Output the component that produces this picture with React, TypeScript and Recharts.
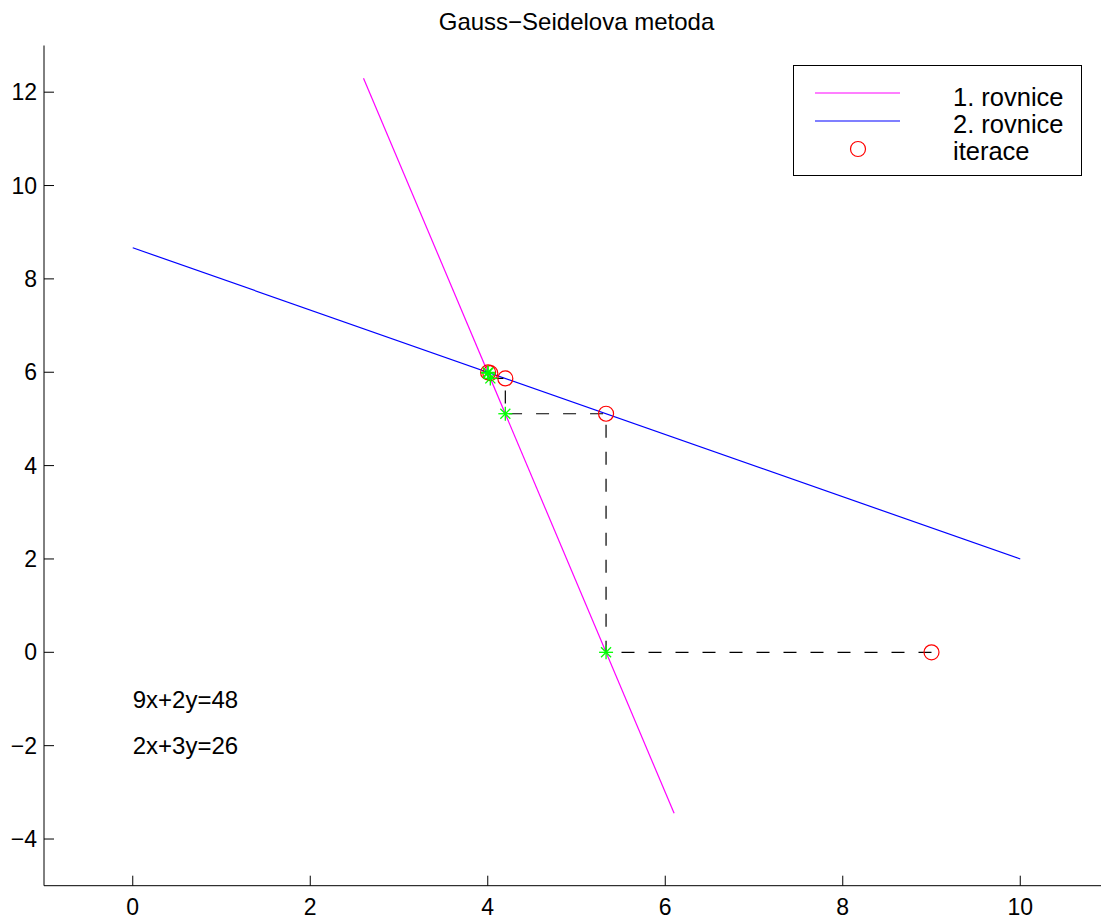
import { ComposedChart, Scatter, XAxis, YAxis, Legend, ReferenceDot } from 'recharts';

const FONT = '"Liberation Sans", Arial, Helvetica, sans-serif';

// 1. rovnice: 9x+2y=48
const eq1X = [2.6, 6.1];
const eq1Y = [12.3, -3.45];
// 2. rovnice: 2x+3y=26
const eq2X = [0, 10];
const eq2Y = [8.667, 2];

// Gauss-Seidel path (dashed)
const pathX = [9, 5.333, 5.333, 4.198, 4.198, 4.029, 4.029, 4.004, 4.004, 4.001];
const pathY = [0, 0, 5.111, 5.111, 5.868, 5.868, 5.981, 5.981, 5.997, 5.997];

// iterations (red circles) and intermediate points (green stars)
const iterX = [9, 5.333, 4.198, 4.029, 4.004];
const iterY = [0, 5.111, 5.868, 5.981, 5.997];
const starX = [5.333, 4.198, 4.029, 4.004, 4.001];
const starY = [0, 5.111, 5.868, 5.981, 5.997];

const xTicks = [0, 2, 4, 6, 8, 10];
const yTicks = [-4, -2, 0, 2, 4, 6, 8, 10, 12];

const equations = ['9x+2y=48', '2x+3y=26'];
const eqLabelY = [-1, -2];

const zip = (xs: number[], ys: number[]) => xs.map((x, i) => ({ x, y: ys[i] }));

const fmt = (v: number) => (v < 0 ? `\u2212${Math.abs(v)}` : `${v}`);

function XTick({ x, y, payload }: any) {
  return (
    <g>
      <line x1={x} x2={x} y1={y} y2={y - 10} stroke="#000" />
      <text x={x} y={y + 29} textAnchor="middle" fontSize={23} fontFamily={FONT} fill="#000">
        {fmt(payload.value)}
      </text>
    </g>
  );
}

function YTick({ x, y, payload }: any) {
  return (
    <g>
      <line x1={x} x2={x + 10} y1={y} y2={y} stroke="#000" />
      <text x={x - 7} y={y + 8} textAnchor="end" fontSize={23} fontFamily={FONT} fill="#000">
        {fmt(payload.value)}
      </text>
    </g>
  );
}

const Empty = () => <g />;

const RedCircle = ({ cx, cy }: any) => (
  <circle cx={cx} cy={cy} r={7.5} fill="none" stroke="#ff0000" strokeWidth={1.2} />
);

const GreenStar = ({ cx, cy }: any) => (
  <g stroke="#00ff00" strokeWidth={1.3}>
    <line x1={cx - 7} x2={cx + 7} y1={cy} y2={cy} />
    <line x1={cx} x2={cx} y1={cy - 7} y2={cy + 7} />
    <line x1={cx - 5} x2={cx + 5} y1={cy - 5} y2={cy + 5} />
    <line x1={cx - 5} x2={cx + 5} y1={cy + 5} y2={cy - 5} />
  </g>
);

function LegendBox({ payload }: any) {
  const items = (payload || []).filter((p: any) => p.type !== 'none');
  return (
    <div style={{ width: 289, height: 111, border: '1px solid #000', boxSizing: 'border-box', background: '#fff' }}>
      <svg width={287} height={109} style={{ display: 'block' }}>
        {items.map((p: any, i: number) => {
          const cy = 27 + i * 28;
          return (
            <g key={p.value}>
              {p.type === 'circle' ? (
                <circle cx={64} cy={cy} r={7.5} fill="none" stroke={p.color} strokeWidth={1.2} />
              ) : (
                <line x1={21} x2={106} y1={cy} y2={cy} stroke={p.color} strokeWidth={1.2} />
              )}
              <text x={159} y={cy + 13 - i} fontSize={25.5} fontFamily={FONT} fill="#000">
                {p.value}
              </text>
            </g>
          );
        })}
      </svg>
    </div>
  );
}

export default function App() {
  return (
    <div
      style={{
        position: 'absolute',
        left: 0,
        top: 0,
        width: 1101,
        height: 919,
        overflow: 'hidden',
        background: '#fff',
      }}
    >
      <ComposedChart width={1110} height={919} margin={{ top: 45.5, right: 1, bottom: 0, left: 0 }}>
        <XAxis
          type="number"
          dataKey="x"
          domain={[-1, 11]}
          ticks={xTicks}
          allowDataOverflow
          height={33.3}
          tickSize={0}
          tickMargin={0}
          tickLine={false}
          axisLine={{ stroke: '#000' }}
          tick={<XTick />}
        />
        <YAxis
          type="number"
          dataKey="y"
          domain={[-5, 13]}
          ticks={yTicks}
          allowDataOverflow
          width={44}
          tickSize={0}
          tickMargin={0}
          tickLine={false}
          axisLine={{ stroke: '#000' }}
          tick={<YTick />}
        />
        <Legend
          layout="vertical"
          align="center"
          verticalAlign="middle"
          content={<LegendBox />}
          wrapperStyle={{ position: 'absolute', left: 793, top: 65, width: 289, height: 111 }}
        />
        <Scatter
          name="1. rovnice"
          data={zip(eq1X, eq1Y)}
          fill="#ff00ff"
          line={{ stroke: '#ff00ff', strokeWidth: 1.2 }}
          lineType="joint"
          shape={<Empty />}
          legendType="line"
          isAnimationActive={false}
        />
        <Scatter
          name="2. rovnice"
          data={zip(eq2X, eq2Y)}
          fill="#0000ff"
          line={{ stroke: '#0000ff', strokeWidth: 1.2 }}
          lineType="joint"
          shape={<Empty />}
          legendType="line"
          isAnimationActive={false}
        />
        <Scatter
          name="path"
          data={zip(pathX, pathY)}
          fill="#000"
          line={{ stroke: '#000', strokeWidth: 1.2, strokeDasharray: '13 14' }}
          lineType="joint"
          shape={<Empty />}
          legendType="none"
          isAnimationActive={false}
        />
        <Scatter
          name="iterace"
          data={zip(iterX, iterY)}
          fill="#ff0000"
          shape={<RedCircle />}
          legendType="circle"
          isAnimationActive={false}
        />
        <Scatter
          name="stars"
          data={zip(starX, starY)}
          fill="#00ff00"
          shape={<GreenStar />}
          legendType="none"
          isAnimationActive={false}
        />
        <ReferenceDot
          x={5}
          y={13}
          r={0}
          fill="none"
          stroke="none"
          label={{ value: 'Gauss\u2212Seidelova metoda', position: 'top', offset: 15.5, fontSize: 24, fontFamily: FONT, fill: '#000' }}
        />
        {equations.map((t, i) => (
          <ReferenceDot
            key={t}
            x={0}
            y={eqLabelY[i]}
            r={0}
            fill="none"
            stroke="none"
            label={{ value: t, position: 'right', offset: 0, fontSize: 24, fontFamily: FONT, fill: '#000' }}
          />
        ))}
      </ComposedChart>
    </div>
  );
}
